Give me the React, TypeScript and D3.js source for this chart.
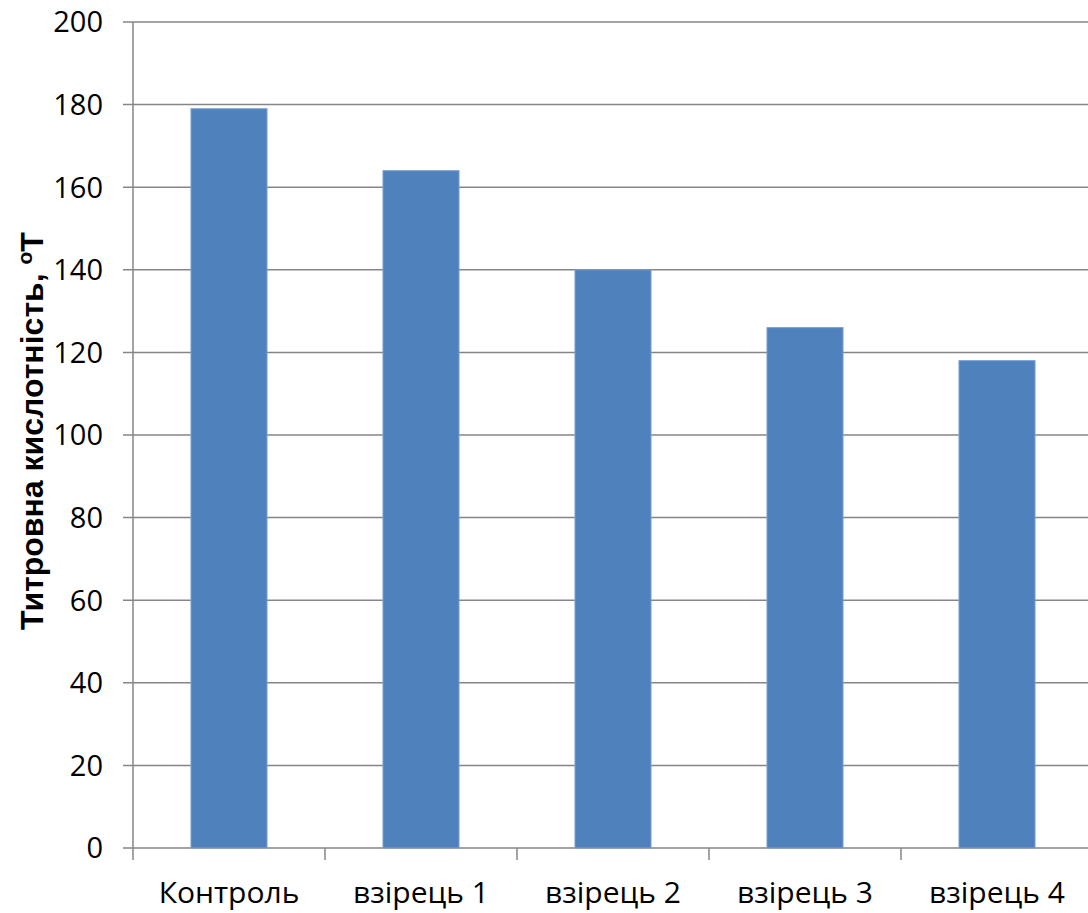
import React from "react";
import * as d3 from "d3";

const categories = ["Контроль", "взірець 1", "взірець 2", "взірець 3", "взірець 4"];
const values = [179, 164, 140, 126, 118];
const yTicks = [0, 20, 40, 60, 80, 100, 120, 140, 160, 180, 200];

export default function App() {
  const W = 1088, H = 913;
  const left = 133, right = 1093, top = 22, bottom = 848;
  const x = d3.scaleBand<string>().domain(categories).range([left, right]).paddingInner(0.604).paddingOuter(0.302);
  const xb = d3.scaleBand<string>().domain(categories).range([left, right]);
  const y = d3.scaleLinear().domain([0, 200]).range([bottom, top]);
  const font = "'Open Sans', 'Noto Sans', sans-serif";
  return (
    <svg width={W} height={H} style={{ position: "absolute", left: 0, top: 0 }} fontFamily={font}>
      <rect width={W} height={H} fill="#fff" />
      {yTicks.map((t) => (
        <g key={t}>
          <line x1={left - 10} x2={W} y1={y(t)} y2={y(t)} stroke="#868686" strokeWidth={1.5} />
          <text x={103} y={y(t)} dy="0.36em" textAnchor="end" fontSize={29} fill="#000">{t}</text>
        </g>
      ))}
      <line x1={left} x2={left} y1={top} y2={bottom + 12} stroke="#868686" strokeWidth={1.5} />
      {categories.map((c) => (
        <line key={"t" + c} x1={xb(c)! + xb.bandwidth()} x2={xb(c)! + xb.bandwidth()} y1={bottom} y2={bottom + 12} stroke="#868686" strokeWidth={1.5} />
      ))}
      {categories.map((c, i) => (
        <rect key={c} x={x(c)} y={y(values[i])} width={x.bandwidth()} height={bottom - y(values[i])} fill="#4F81BD" stroke="#7A9FD0" strokeWidth={1} />
      ))}
      {categories.map((c) => (
        <text key={"l" + c} x={xb(c)! + xb.bandwidth() / 2} y={903} textAnchor="middle" fontSize={30} fill="#000">{c}</text>
      ))}
      <text transform={`translate(43,${431}) rotate(-90)`} textAnchor="middle" fontSize={32} fontWeight="bold" fontFamily="'Liberation Sans', Arial, sans-serif" fill="#000">
        Титровна кислотність, <tspan dy={-11} fontSize={21}>о</tspan><tspan dy={11}>Т</tspan>
      </text>
    </svg>
  );
}
